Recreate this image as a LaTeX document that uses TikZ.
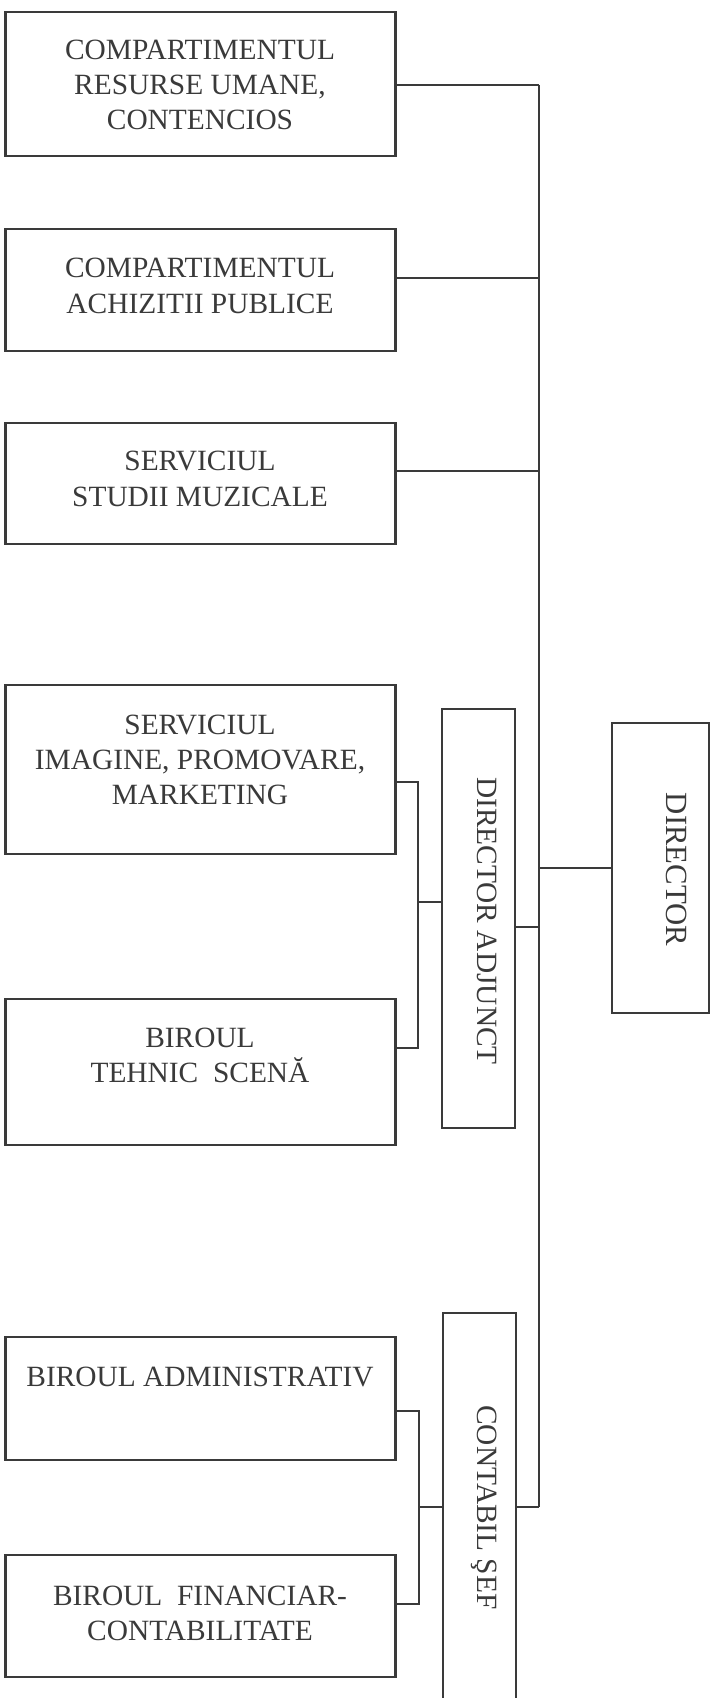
\documentclass[tikz,border=0pt]{standalone}
\usepackage{fontspec}
\setmainfont{Liberation Serif}
\definecolor{ink}{HTML}{3A3A3A}

\begin{document}
\begin{tikzpicture}[x=1pt, y=-1pt,
    unit/.style={draw=ink, line width=2.2pt, minimum width=390pt, inner sep=0pt},
    head/.style={draw=ink, line width=2.2pt, inner sep=0pt},
    txt/.style={align=center, text=ink, inner sep=0pt, font=\fontsize{29.4}{35.3}\selectfont},
    vtxt/.style={txt, rotate=-90, text depth=0pt},
    link/.style={draw=ink, line width=1.6pt}]
    \useasboundingbox (0,0) rectangle (713,1698);
    % compartimente si servicii
    \node[unit, minimum height=144.5pt] (resurse) at (200.5,84) {};
    \node[unit, minimum height=122pt] (achizitii) at (200.5,290) {};
    \node[unit, minimum height=121pt] (studii) at (200.5,483.5) {};
    \node[unit, minimum height=169pt] (imagine) at (200.5,769.5) {};
    \node[unit, minimum height=146pt] (tehnic) at (200.5,1072) {};
    \node[unit, minimum height=123pt] (administrativ) at (200.5,1398.5) {};
    \node[unit, minimum height=122pt] (financiar) at (200.5,1616) {};
    \node[txt] (resurse-t) at (200,85) {COMPARTIMENTUL\\RESURSE UMANE,\\CONTENCIOS};
    \node[txt] (achizitii-t) at (200,286) {COMPARTIMENTUL\\ACHIZITII PUBLICE};
    \node[txt] (studii-t) at (200,479) {SERVICIUL\\STUDII MUZICALE};
    \node[txt] (imagine-t) at (200,760) {SERVICIUL\\IMAGINE, PROMOVARE,\\MARKETING};
    \node[txt] (tehnic-t) at (200,1055.5) {BIROUL\\TEHNIC\ \ SCENĂ};
    \node[txt] (administrativ-t) at (200,1377) {BIROUL ADMINISTRATIV};
    \node[txt] (financiar-t) at (200,1613.5) {BIROUL\ \ FINANCIAR-\\CONTABILITATE};
    % conducere
    \node[head, minimum width=73pt, minimum height=419pt] (adjunct) at (478.5,918.5) {};
    \node[head, minimum width=97pt, minimum height=290pt] (director) at (660.5,868) {};
    \node[head, minimum width=73pt, minimum height=392pt] (contabil) at (479.5,1509) {};
    \node[vtxt] (adjunct-t) at (487.5,921) {DIRECTOR ADJUNCT};
    \node[vtxt, font=\fontsize{30.8}{37}\selectfont] (director-t) at (677,869.5) {DIRECTOR};
    \node[vtxt] (contabil-t) at (487.5,1507.5) {CONTABIL ŞEF};
    % linia principala
    \coordinate (t1) at (539,85);
    \coordinate (t2) at (539,278);
    \coordinate (t3) at (539,471);
    \coordinate (t4) at (539,868);
    \coordinate (t5) at (539,927);
    \coordinate (t6) at (539,1507);
    \draw[link] (t1) -- (t6);
    \draw[link] (resurse.east |- t1) -- (t1);
    \draw[link] (achizitii.east |- t2) -- (t2);
    \draw[link] (studii.east |- t3) -- (t3);
    \draw[link] (t4) -- (director.west |- t4);
    \draw[link] (adjunct.east |- t5) -- (t5);
    \draw[link] (contabil.east |- t6) -- (t6);
    % director adjunct
    \coordinate (a1) at (418,782);
    \coordinate (a2) at (418,1048);
    \coordinate (am) at (418,902);
    \draw[link] (imagine.east |- a1) -| (a2) -- (tehnic.east |- a2);
    \draw[link] (am) -- (adjunct.west |- am);
    % contabil sef
    \coordinate (c1) at (419,1411);
    \coordinate (c2) at (419,1604);
    \coordinate (cm) at (419,1507);
    \draw[link] (administrativ.east |- c1) -| (c2) -- (financiar.east |- c2);
    \draw[link] (cm) -- (contabil.west |- cm);
\end{tikzpicture}
\end{document}
